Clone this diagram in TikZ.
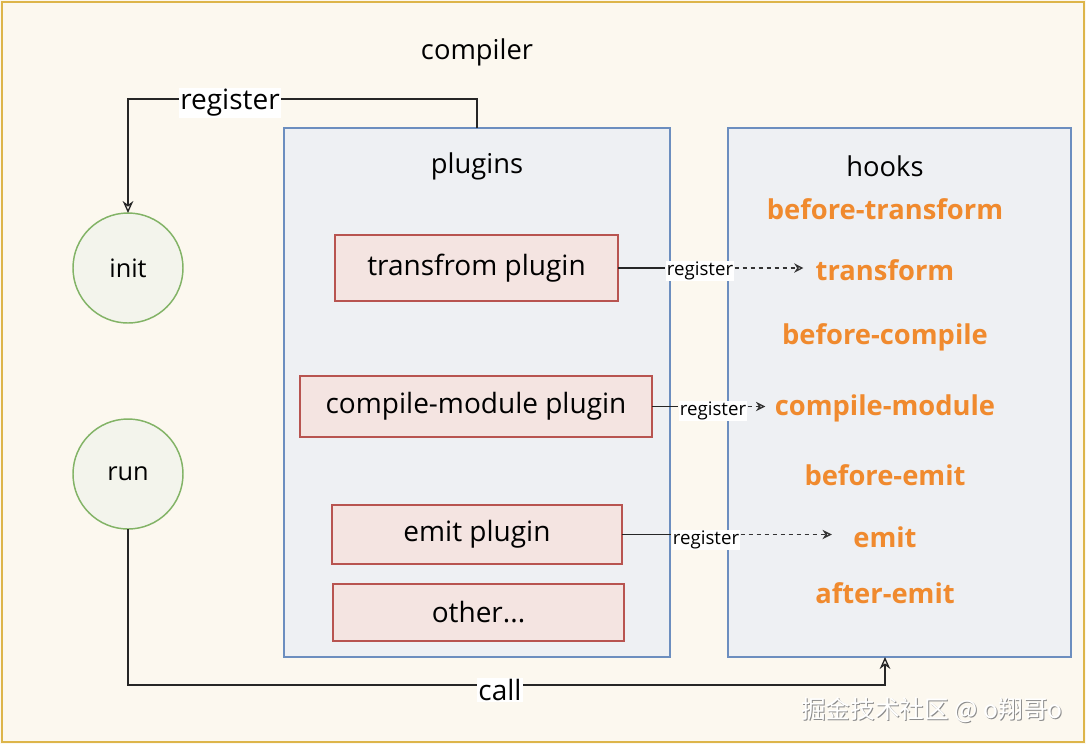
\documentclass[tikz,border=0pt]{standalone}
\usepackage{fontspec}
\setmainfont{Open Sans}
\newfontfamily\cjkfont{Noto Sans CJK SC}
\usetikzlibrary{arrows.meta}
\definecolor{bgcol}{HTML}{FCF8EF}
\definecolor{framecol}{HTML}{DDB54A}
\definecolor{boxfill}{HTML}{EEF0F3}
\definecolor{boxline}{HTML}{6C8EBF}
\definecolor{redfill}{HTML}{F4E4E1}
\definecolor{redline}{HTML}{B85450}
\definecolor{greenline}{HTML}{82B366}
\definecolor{greenfill}{HTML}{F3F4EC}
\definecolor{hookcol}{HTML}{F08A2E}
\tikzset{
  maintext/.style={font=\fontsize{20.5}{24}\selectfont, text=black, inner sep=0pt},
  hooktext/.style={font=\fontsize{20.5}{24}\selectfont\bfseries, text=hookcol, inner sep=1pt},
  groupbox/.style={draw=boxline, fill=boxfill, line width=0.9pt, inner sep=0pt, outer sep=0pt},
  pluginbox/.style={draw=redline, fill=redfill, line width=1.1pt, inner sep=0pt, outer sep=0pt, font=\fontsize{21}{24}\selectfont},
  phasecircle/.style={circle, draw=greenline, fill=greenfill, line width=1.1pt, inner sep=0pt, outer sep=0pt, minimum size=82.5pt, font=\fontsize{19}{22}\selectfont},
  bigreg/.style={fill=white, inner sep=1pt, font=\fontsize{21}{24}\selectfont},
  smallreg/.style={fill=white, inner sep=1pt, font=\fontsize{14}{16}\selectfont},
  link/.style={draw=black!85, line width=1pt},
  dashlink/.style={draw=black!80, line width=1pt, dashed, -{Stealth[open,length=7pt,width=7pt]}},
  tiparrow/.style={-{Stealth[open,length=9pt,width=8pt]}}
}
\begin{document}
\begin{tikzpicture}[x=0.75pt,y=-0.75pt]
\useasboundingbox (0,0) rectangle (1086,744);
\fill[bgcol] (0,0) rectangle (1086,744);
\draw[framecol, line width=2.2pt] (2,2) rectangle (1084,742);

\node[maintext] (compiler) at (477,52) {compiler};

% group boxes
\node[groupbox, minimum width=289.5pt, minimum height=396.75pt] (plugins) at (477,392.5) {};
\node[groupbox, minimum width=257.25pt, minimum height=396.75pt] (hooks) at (899.5,392.5) {};
\node[maintext] (pluginsT) at (477,166) {plugins};
\node[maintext] (hooksT) at (885,166) {hooks};

% plugin boxes
\node[pluginbox, minimum width=212.25pt, minimum height=49.5pt] (ptrans) at (476.5,268) {transfrom plugin};
\node[pluginbox, minimum width=264pt, minimum height=45.75pt] (pcomp) at (476,406.5) {compile-module plugin};
\node[pluginbox, minimum width=217.5pt, minimum height=44.25pt] (pemit) at (477,534.5) {emit plugin};
\node[pluginbox, minimum width=218.25pt, minimum height=42.75pt] (pother) at (478.5,612.5) {other...};

% hooks
\node[hooktext] (hbt) at (885,209) {before-transform};
\node[hooktext] (ht) at (885,270) {transform};
\node[hooktext] (hbc) at (885,337) {before-compile};
\node[hooktext] (hcm) at (885,408) {compile-module};
\node[hooktext] (hbe) at (885,475) {before-emit};
\node[hooktext] (he) at (885,537) {emit};
\node[hooktext] (hae) at (885,593) {after-emit};

% circles
\node[phasecircle] (init) at (128,268) {init};
\node[phasecircle] (run) at (128,474) {run};

% top register connector
\coordinate (regtop) at (477,99);
\draw[link, tiparrow] (plugins.north -| regtop) -- (regtop) -- (regtop -| init) -- (init.north);
\node[bigreg] (regT) at (230,103) {register};

% plugin -> hook register connectors
\node[smallreg] (r1) at (700,271) {register};
\draw[link] (ptrans.east) -- (r1.west |- ptrans.east);
\draw[dashlink, shorten >=8pt] (r1.east |- ptrans.east) -- (ht.west |- ptrans.east);

\node[smallreg] (r2) at (713,411) {register};
\draw[link] (pcomp.east) -- (r2.west |- pcomp.east);
\draw[dashlink, shorten >=6pt] (r2.east |- pcomp.east) -- (hcm.west |- pcomp.east);

\node[smallreg] (r3) at (706,540) {register};
\draw[link] (pemit.east) -- (r3.west |- pemit.east);
\draw[dashlink, shorten >=15pt] (r3.east |- pemit.east) -- (he.west |- pemit.east);

% call connector
\coordinate (callbend) at (885,685);
\draw[link, tiparrow] (run.south) |- (callbend) -- (callbend |- hooks.south);
\node[bigreg] (callT) at (500,690) {call};

% watermark
\node[font=\cjkfont\fontsize{18.5}{22}\selectfont, text=black!45] (wmS) at (933,711) {掘金技术社区 @ o翔哥o};
\node[font=\cjkfont\fontsize{18.5}{22}\selectfont, text=white] (wm) at (932,710) {掘金技术社区 @ o翔哥o};
\end{tikzpicture}
\end{document}
